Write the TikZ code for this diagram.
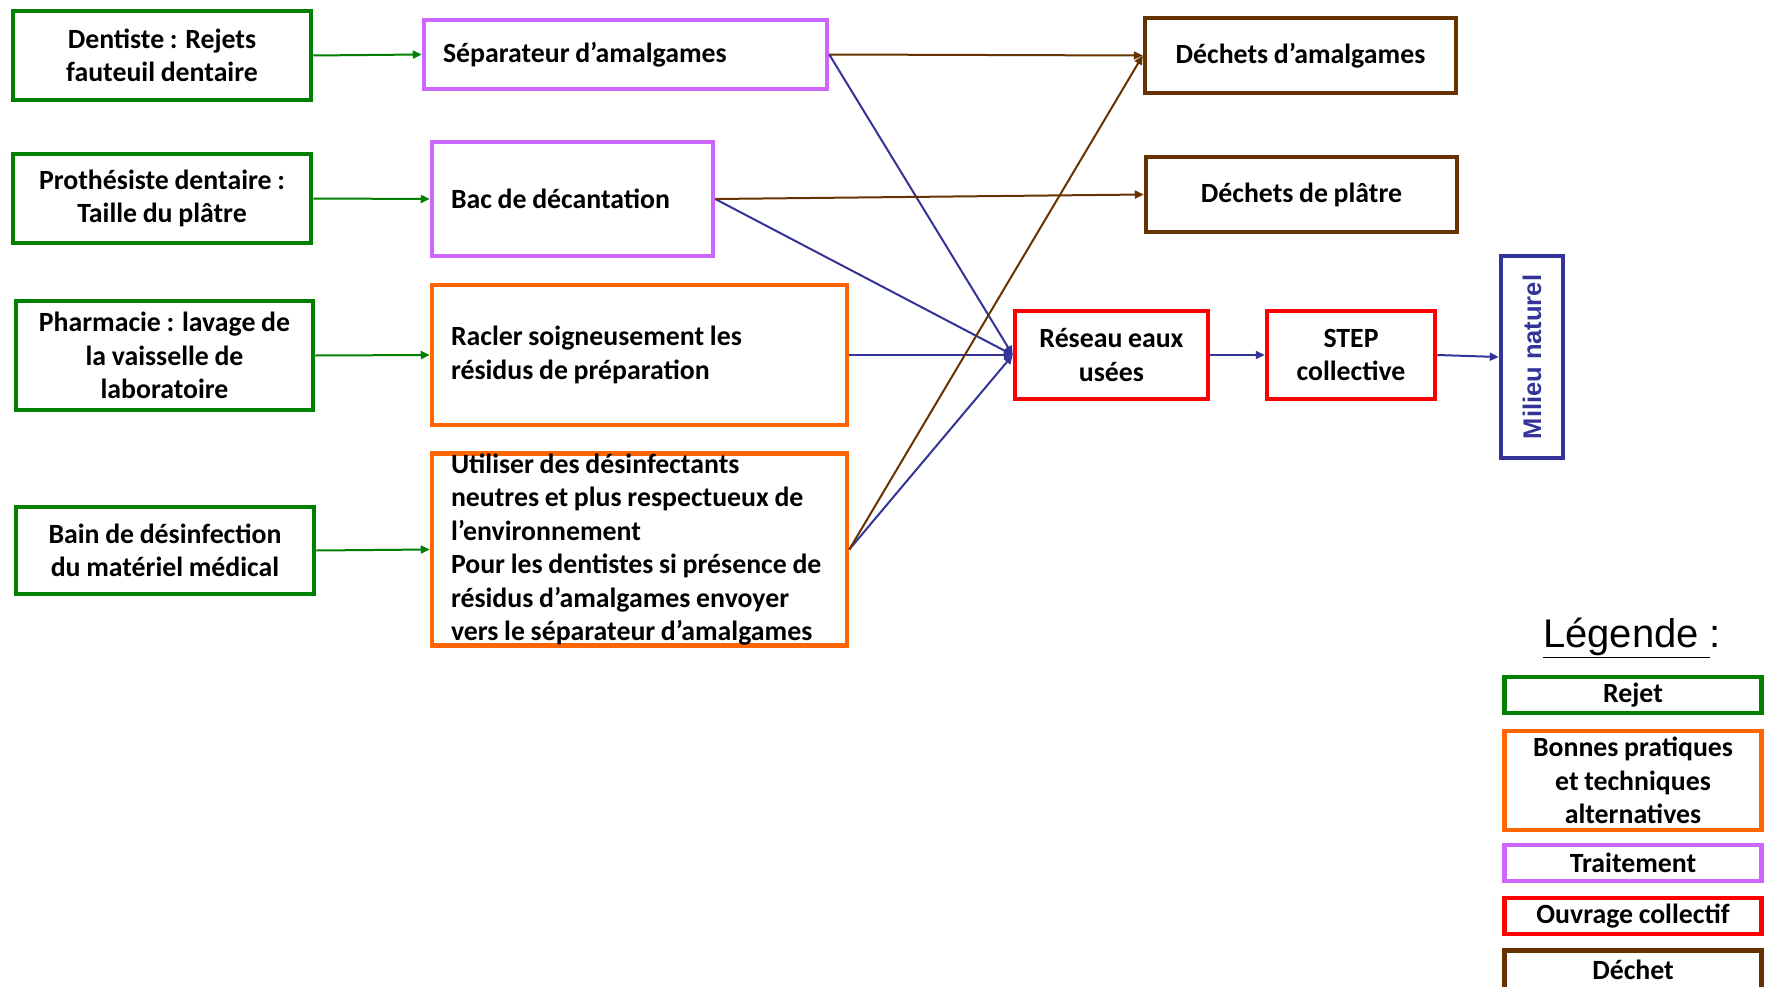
\documentclass[tikz,border=0pt]{standalone}
\usepackage{fontspec}
\setmainfont{Carlito}[WordSpace=0.9]
\newfontfamily\arialf{Liberation Sans}
\usetikzlibrary{arrows.meta}
\definecolor{cgreen}{HTML}{008000}
\definecolor{cpurple}{HTML}{CC66FF}
\definecolor{corange}{HTML}{FF6600}
\definecolor{cred}{HTML}{FF0000}
\definecolor{cbrown}{HTML}{663300}
\definecolor{cblue}{HTML}{333399}
\tikzset{
  box/.style={draw, line width=4.5pt, inner sep=0pt, align=center, fill=white,
    font=\bfseries\fontsize{27.8}{33.5}\selectfont},
  lbox/.style={box, align=left, inner xsep=19pt,
    execute at begin node={\spaceskip=0.205em plus 0.05em minus 0.03em\relax\xspaceskip=0.205em\relax}},
  gbox/.style={box, draw=cgreen},
  pbox/.style={lbox, draw=cpurple},
  obox/.style={lbox, draw=corange},
  bbox/.style={box, draw=cbrown},
  rbox/.style={box, draw=cred},
  conn/.style={line width=2pt, -{Triangle[length=9pt,width=8pt]}},
  garrow/.style={conn, draw=cgreen, fill=cgreen},
  brarrow/.style={conn, draw=cbrown, fill=cbrown},
  blarrow/.style={conn, draw=cblue, fill=cblue},
}
\begin{document}
\begin{tikzpicture}[x=1pt,y=-1pt]
\useasboundingbox (0,0) rectangle (1771,987);
% sources (rejets)
\node[gbox, minimum width=298pt, minimum height=89pt] (G1) at (162,55.5) {Dentiste : Rejets\\fauteuil dentaire};
\node[gbox, minimum width=298pt, minimum height=89pt] (G2) at (162,198.5) {Prothésiste dentaire :\\Taille du plâtre};
\node[gbox, minimum width=297pt, minimum height=109pt] (G3) at (164.5,355.5) {Pharmacie : lavage de\\la vaisselle de\\laboratoire};
\node[gbox, minimum width=298pt, minimum height=87pt] (G4) at (165,550.5) {Bain de désinfection\\du matériel médical};
% treatments / good practices
\node[pbox, text width=365pt, minimum height=69pt] (P1) at (625.5,54.5) {Séparateur d’amalgames};
\node[pbox, text width=243pt, minimum height=114pt] (P2) at (572.5,199) {Bac de décantation};
\node[obox, text width=377pt, minimum height=140pt] (O1) at (639.5,355) {Racler soigneusement les\\résidus de préparation};
\node[obox, text width=377pt, minimum height=189pt] (O2) at (639.5,549.5) {\mbox{Utiliser des désinfectants}\\\mbox{neutres et plus respectueux de}\\\mbox{l’environnement}\\\mbox{Pour les dentistes si présence de}\\\mbox{résidus d’amalgames envoyer}\\\mbox{vers le séparateur d’amalgames}};
% wastes
\node[bbox, minimum width=311pt, minimum height=75pt] (B1) at (1300.5,55.5) {Déchets d’amalgames};
\node[bbox, minimum width=311pt, minimum height=75pt] (B2) at (1301.5,194.5) {Déchets de plâtre};
% collective works
\node[rbox, minimum width=193pt, minimum height=88pt] (R1) at (1111.5,355) {Réseau eaux\\usées};
\node[rbox, minimum width=168pt, minimum height=88pt] (R2) at (1351,355) {STEP\\collective};
\node[draw=cblue, line width=4.5pt, inner sep=0pt, rotate=90, minimum width=202pt, minimum height=62pt,
  text=cblue, font=\arialf\bfseries\fontsize{25.5}{29}\selectfont] (M) at (1532,357) {Milieu naturel};
% connectors
\draw[garrow] (G1.east) -- (P1.west);
\draw[garrow] (G2.east) -- (P2.west);
\draw[garrow] (G3.east) -- (O1.west);
\draw[garrow] (G4.east) -- (O2.west);
\draw[blarrow] (P1.east) -- (R1.west);
\draw[blarrow] (P2.east) -- (R1.west);
\draw[blarrow] (O1.east) -- (R1.west);
\draw[blarrow] (O2.east) -- (R1.west);
\draw[brarrow] (P1.east) -- (B1.west);
\draw[brarrow] (P2.east) -- (B2.west);
\draw[brarrow] (O2.east) -- (B1.west);
\draw[blarrow] (R1.east) -- (R2.west);
\draw[blarrow] (R2.east) -- (M.north);
% legend
\node[font=\arialf\fontsize{40}{46}\selectfont, anchor=base] (LT) at (1632,647) {\underline{Légende\ }:};
\node[gbox, minimum width=257pt, minimum height=36pt] (L1) at (1633,695) {Rejet};
\node[box, draw=corange, minimum width=257pt, minimum height=99pt] (L2) at (1633,780.5) {Bonnes pratiques\\et techniques\\alternatives};
\node[box, draw=cpurple, minimum width=257pt, minimum height=36pt] (L3) at (1633,863) {Traitement};
\node[rbox, minimum width=257pt, minimum height=36pt] (L4) at (1633,916) {Ouvrage collectif};
\node[bbox, minimum width=257pt, minimum height=39pt] (L5) at (1633,970) {Déchet};
\end{tikzpicture}
\end{document}
